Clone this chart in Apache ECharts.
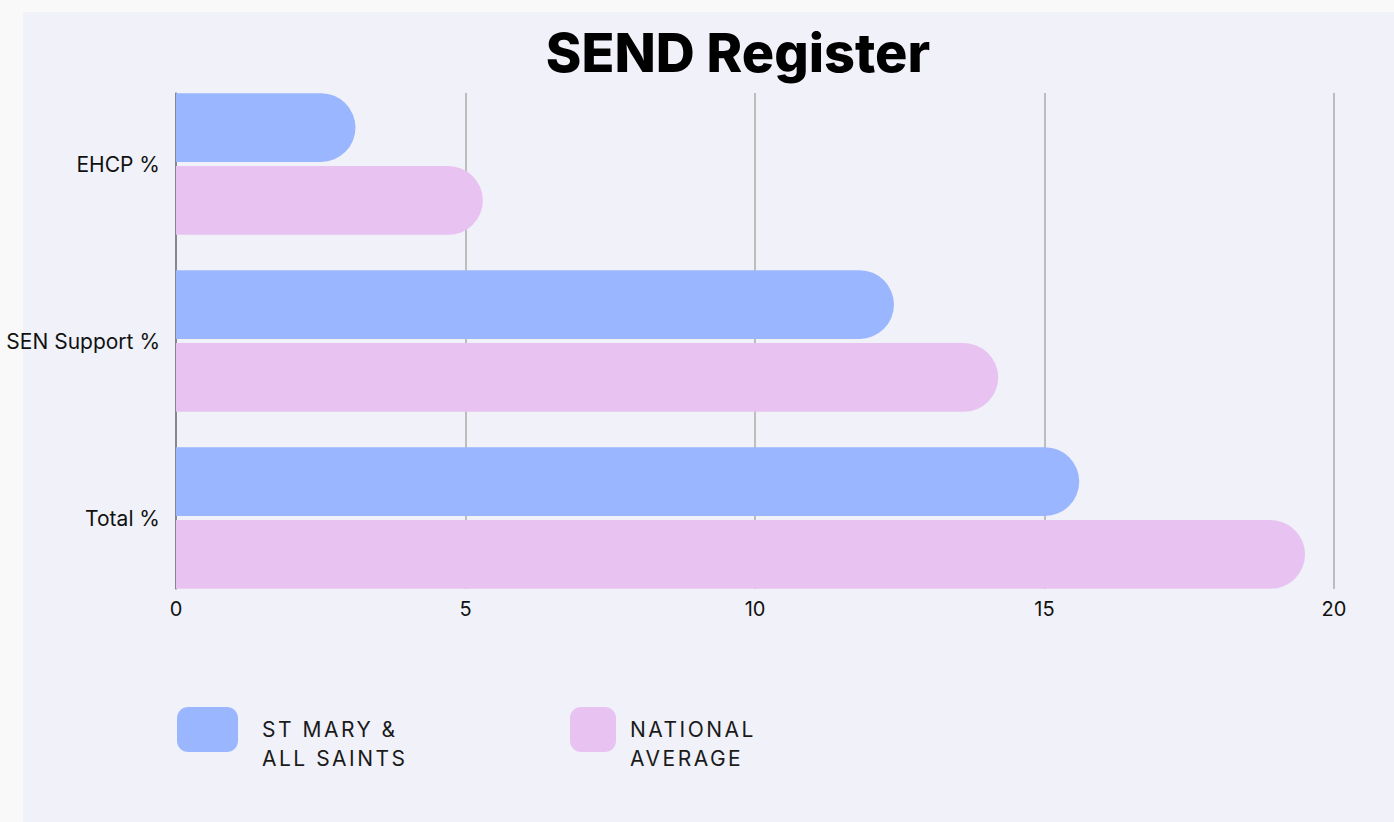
<!DOCTYPE html>
<html><head><meta charset="utf-8">
<script src="https://cdn.jsdelivr.net/npm/echarts@6/dist/echarts.min.js"></script>
<style>html,body{margin:0;padding:0;background:#f9f9f9}#c{width:1394px;height:822px}</style>
</head><body><div id="c"></div>
<script>
const categories = ['EHCP %', 'SEN Support %', 'Total %'];
const stMary = [3.1, 12.4, 15.6];
const national = [5.3, 14.2, 19.5];
const seriesNames = ['ST MARY &\nALL SAINTS', 'NATIONAL\nAVERAGE'];
const xTicks = [0, 5, 10, 15, 20];

const blue = '#9ab6fe', pink = '#e8c3f1';
const chart = echarts.init(document.getElementById('c'), null, {renderer: 'svg'});
const baseText = {fontFamily: 'Inter', fontSize: 21, color: '#1a1a1a'};
const legendText = Object.assign({lineHeight: 29,
  rich: {f: Object.assign({lineHeight: 57, verticalAlign: 'bottom', padding: [0, 0, 4, 0]}, baseText),
         a: Object.assign({lineHeight: 29}, baseText)}}, baseText);
const legendFmt = name => {
  const lines = name.split('\n');
  return '{f|' + lines[0] + '}\n{a|' + lines[1] + '}';
};
chart.setOption({
  backgroundColor: '#f9f9f9',
  animation: false,
  graphic: [{type: 'rect', z: -10, shape: {x: 23, y: 12, width: 1394 - 23, height: 822 - 12}, style: {fill: '#f0f1f9'}}],
  title: {text: 'SEND Register', left: 733, top: 20, textAlign: 'center',
    textStyle: {fontFamily: 'Inter', fontWeight: 800, fontSize: 54, color: '#000'}},
  legend: [
    {data: [seriesNames[0]], left: 177, top: 686.5, padding: 0, itemWidth: 61, itemHeight: 45, itemGap: 0,
     icon: 'roundRect', formatter: legendFmt, textStyle: Object.assign({padding: [0, 0, 0, 19]}, legendText)},
    {data: [seriesNames[1]], left: 570, top: 686.5, padding: 0, itemWidth: 46, itemHeight: 45, itemGap: 0,
     icon: 'roundRect', formatter: legendFmt, textStyle: Object.assign({padding: [0, 0, 0, 9]}, legendText)}
  ],
  grid: [
    {left: 176, right: 60, top: 93, height: 496},
    {left: 176, right: 60, top: 75.5, height: 531}
  ],
  xAxis: [
    {gridIndex: 0, type: 'value', min: 0, max: 20, interval: 5,
     axisLine: {show: false}, axisTick: {show: false},
     axisLabel: {margin: 10, fontFamily: 'Inter', fontSize: 20, color: '#111',
       formatter: v => xTicks.includes(v) ? String(v) : ''},
     splitLine: {lineStyle: {color: '#bdbdbd', width: 2}}},
    {gridIndex: 1, type: 'value', min: 0, max: 20, interval: 5, show: false, splitLine: {show: false}}
  ],
  yAxis: [
    {gridIndex: 0, type: 'category', data: categories, inverse: true,
     axisLine: {show: true, lineStyle: {color: '#777', width: 1.5}}, axisTick: {show: false}, axisLabel: {show: false}},
    {gridIndex: 1, type: 'category', data: categories, inverse: true,
     axisLine: {show: false}, axisTick: {show: false},
     axisLabel: {margin: 16, fontFamily: 'Inter', fontSize: 21, color: '#111'}}
  ],
  series: [
    {name: seriesNames[0], type: 'bar', xAxisIndex: 1, yAxisIndex: 1, data: stMary,
     barCategoryGap: '20%', barGap: '6%', itemStyle: {color: blue, borderRadius: [0, 35, 35, 0]}},
    {name: seriesNames[1], type: 'bar', xAxisIndex: 1, yAxisIndex: 1, data: national,
     barCategoryGap: '20%', barGap: '6%', itemStyle: {color: pink, borderRadius: [0, 35, 35, 0]}}
  ]
});
// legend lettering is tracked out in the original
const legendLines = seriesNames.join('\n').split('\n');
document.querySelectorAll('#c svg text').forEach(t => {
  if (legendLines.includes(t.textContent.trim())) t.style.letterSpacing = '2.5px';
});
</script></body></html>
